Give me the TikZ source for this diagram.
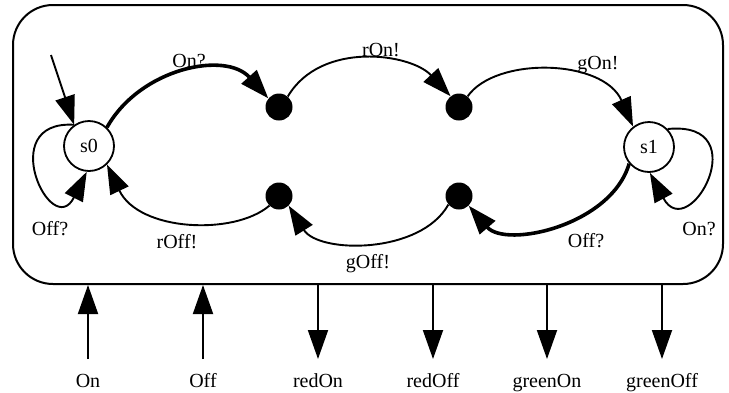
\documentclass[tikz,border=0pt]{standalone}
\usepackage{fontspec}
\setmainfont{Liberation Serif}
\usetikzlibrary{arrows.meta}
\begin{document}
\begin{tikzpicture}[x=1pt,y=-1pt,
  every node/.style={font=\fontsize{20}{23}\selectfont},
  state/.style={draw, circle, line width=1.8pt, minimum size=50pt, inner sep=0pt},
  dotnode/.style={circle, fill=black, minimum size=27pt, inner sep=0pt},
  edge/.style={line width=1.9pt, -{Triangle[length=29pt,width=20pt]}},
  thickedge/.style={edge, line width=3.6pt},
  lbl/.style={anchor=base, inner sep=0pt},
]
\useasboundingbox (0,0) rectangle (729,392);
% outer box
\node[draw, line width=2pt, rounded corners=40pt, minimum width=710pt, minimum height=279pt, inner sep=0pt] (box) at (368,144.5) {};
% states
\node[state] (s0) at (89,146) {s0};
\node[state] (s1) at (649,147) {s1};
\node[dotnode] (d1) at (279,107) {};
\node[dotnode] (d2) at (459,107) {};
\node[dotnode] (d3) at (279,196) {};
\node[dotnode] (d4) at (459,196) {};
% initial
\coordinate (init) at (51,55);
\draw[edge] (init) -- (s0.125);
% transitions
\draw[thickedge] (s0.46) .. controls +(33,-59) and +(-43,-48) .. (d1.141);
\draw[edge] (d1.50) .. controls +(33,-56) and +(-40,-43) .. (d2.128);
\draw[edge] (d2.51) .. controls +(28,-40) and +(-30,-68) .. (s1.128);
\draw[thickedge] (s1.220) .. controls +(-18,62) and +(37,43) .. (d4.315);
\draw[edge] (d4.219) .. controls +(-28,50) and +(30,48) .. (d3.315);
\draw[edge] (d3.225) .. controls +(-35,30) and +(32,67) .. (s0.314);
\draw[edge] (s0.125) .. controls +(-80,-5) and +(-35,70) .. (s0.265);
\draw[edge] (s1.44) .. controls +(90,-9) and +(39,73) .. (s1.272);
% labels
\node[lbl] (lOnq) at (189,67) {On?};
\node[lbl] (lrOn) at (381,56) {rOn!};
\node[lbl] (lgOn) at (598,69) {gOn!};
\node[lbl] (lOffqL) at (50,235) {Off?};
\node[lbl] (lrOff) at (177,248) {rOff!};
\node[lbl] (lgOff) at (368,268) {gOff!};
\node[lbl] (lOffqR) at (586,247) {Off?};
\node[lbl] (lOnqR) at (699,235) {On?};
% interface
\node[lbl] (lOn) at (88,387) {On};
\node[lbl] (lOff) at (203,387) {Off};
\node[lbl] (lredOn) at (318,387) {redOn};
\node[lbl] (lredOff) at (433,387) {redOff};
\node[lbl] (lgreenOn) at (547,387) {greenOn};
\node[lbl] (lgreenOff) at (662,387) {greenOff};
\coordinate (tOn) at (88,359);
\coordinate (tOff) at (203,359);
\coordinate (tredOn) at (318,359);
\coordinate (tredOff) at (433,359);
\coordinate (tgreenOn) at (547,359);
\coordinate (tgreenOff) at (662,359);
\draw[edge] (tOn) -- (tOn |- box.south);
\draw[edge] (tOff) -- (tOff |- box.south);
\draw[edge] (tredOn |- box.south) -- (tredOn);
\draw[edge] (tredOff |- box.south) -- (tredOff);
\draw[edge] (tgreenOn |- box.south) -- (tgreenOn);
\draw[edge] (tgreenOff |- box.south) -- (tgreenOff);
\end{tikzpicture}
\end{document}
